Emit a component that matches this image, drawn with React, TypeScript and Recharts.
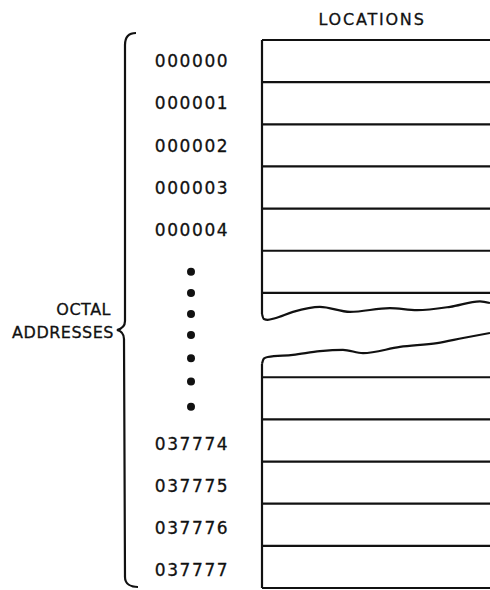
import React from 'react'
import { ComposedChart, Line, XAxis, YAxis, ReferenceLine } from 'recharts'

// rows are memory cells, counted from the top of the box (one row = one location)
const addressLabels = ['000000', '000001', '000002', '000003', '000004', '037774', '037775', '037776', '037777']
const addressRows = [0, 1, 2, 3, 4, 9, 10, 11, 12]
const dotRows = [5.5, 6.0, 6.5, 7.0, 7.55, 8.1, 8.7]
const upperBounds = [0, 1, 2, 3, 4, 5, 6]
const lowerBounds = [8, 9, 10, 11, 12, 13]

// torn edges of the box, x = share of box width, y = row
const upperEdge = [
  { x: 0, y: 6.5 }, { x: 0.008, y: 6.62 }, { x: 0.025, y: 6.64 },
  { x: 0.057, y: 6.6 }, { x: 0.136, y: 6.45 }, { x: 0.254, y: 6.33 }, { x: 0.386, y: 6.45 },
  { x: 0.561, y: 6.36 }, { x: 0.68, y: 6.41 }, { x: 0.825, y: 6.33 }, { x: 0.956, y: 6.2 },
  { x: 1, y: 6.24 }
]
const lowerEdge = [
  { x: 0, y: 7.68 }, { x: 0.008, y: 7.56 }, { x: 0.025, y: 7.52 },
  { x: 0.136, y: 7.47 }, { x: 0.254, y: 7.38 }, { x: 0.355, y: 7.35 }, { x: 0.443, y: 7.43 },
  { x: 0.605, y: 7.28 }, { x: 0.768, y: 7.19 }, { x: 0.882, y: 7.07 }, { x: 1, y: 6.95 }
]

const ink = '#111111'
const font = '"DejaVu Sans", sans-serif'

const AddressTick = ({ x, y, payload }: any) => {
  const idx = addressRows.findIndex(r => r + 0.5 === payload.value)
  if (idx >= 0) {
    const shift = addressRows[idx] > 8 ? 3 : 0
    return (
      <text x={x - 70} y={y + shift} dy="0.36em" textAnchor="middle" fontFamily={font} fontSize={17}
        letterSpacing={1.6} fill={ink} stroke={ink} strokeWidth={0.3}>
        {addressLabels[idx]}
      </text>
    )
  }
  return <circle cx={x - 71} cy={y} r={4} fill={ink} />
}

const BraceLabel = ({ viewBox }: any) => {
  const { x, y, height } = viewBox
  const bx = x + 125
  const top = y - 7
  const bottom = y + height - 1
  const mid = 330
  const d = `M ${bx + 11} ${top} C ${bx + 4} ${top} ${bx} ${top + 3} ${bx} ${top + 12}
    L ${bx} ${mid - 9} C ${bx} ${mid - 3} ${bx - 4} ${mid - 1} ${bx - 8} ${mid}
    C ${bx - 4} ${mid + 1} ${bx - 1} ${mid + 3} ${bx - 1} ${mid + 9}
    L ${bx} ${bottom - 10} C ${bx} ${bottom - 3} ${bx + 6} ${bottom} ${bx + 13} ${bottom}`
  return (
    <g>
      <path d={d} fill="none" stroke={ink} strokeWidth={2.2} />
      <text x={bx - 14} y={315} textAnchor="end" fontFamily={font} fontSize={16} letterSpacing={0.5} fill={ink} stroke={ink} strokeWidth={0.3}>OCTAL</text>
      <text x={bx - 11} y={338} textAnchor="end" fontFamily={font} fontSize={16} letterSpacing={0.5} fill={ink} stroke={ink} strokeWidth={0.3}>ADDRESSES</text>
    </g>
  )
}

const TitleLabel = ({ viewBox }: any) => {
  const { x, y, width } = viewBox
  return (
    <text x={x + width / 2 - 4} y={y + 25} textAnchor="middle" fontFamily={font} fontSize={16}
      letterSpacing={1.8} fill={ink} stroke={ink} strokeWidth={0.3}>
      LOCATIONS
    </text>
  )
}

const App = () => {
  const ticks = [...addressRows.map(r => r + 0.5), ...dotRows].sort((a, b) => a - b)
  return (
    <div style={{ width: 490, height: 590, background: '#fff' }}>
      <style>{'body{margin:0}'}</style>
      <ComposedChart width={490} height={590} margin={{ top: 0, right: 0, bottom: 2, left: 0 }}>
        <XAxis
          type="number"
          dataKey="x"
          domain={[0, 1]}
          orientation="top"
          height={40}
          tick={false}
          axisLine={false}
          tickLine={false}
          label={<TitleLabel />}
        />
        <YAxis
          type="number"
          domain={[0, 13]}
          reversed={true}
          width={262}
          ticks={ticks}
          interval={0}
          tickSize={0}
          tickMargin={0}
          axisLine={false}
          tickLine={false}
          tick={<AddressTick />}
          label={<BraceLabel />}
        />
        {upperBounds.map(b => (
          <ReferenceLine key={'u' + b} y={b} stroke={ink} strokeWidth={2.2} />
        ))}
        {lowerBounds.map(b => (
          <ReferenceLine key={'l' + b} y={b} stroke={ink} strokeWidth={2.2} />
        ))}
        <ReferenceLine segment={[{ x: 0, y: 0 }, { x: 0, y: 6.5 }]} stroke={ink} strokeWidth={2.2} />
        <ReferenceLine segment={[{ x: 0, y: 7.68 }, { x: 0, y: 13 }]} stroke={ink} strokeWidth={2.2} />
        <Line data={upperEdge} dataKey="y" type="monotone" stroke={ink} strokeWidth={2.2} dot={false} isAnimationActive={false} />
        <Line data={lowerEdge} dataKey="y" type="monotone" stroke={ink} strokeWidth={2.2} dot={false} isAnimationActive={false} />
      </ComposedChart>
    </div>
  )
}

export default App
